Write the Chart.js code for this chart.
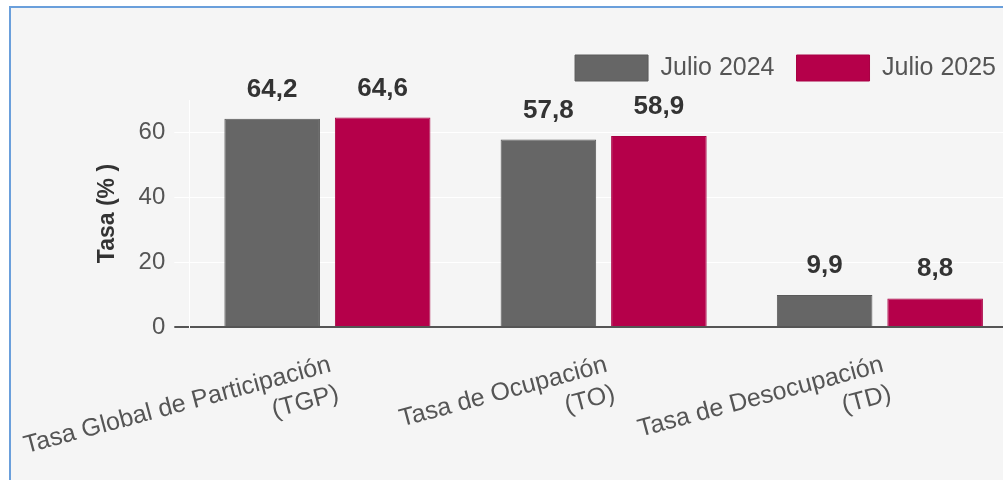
<!DOCTYPE html>
<html><head><meta charset="utf-8">
<script src="https://cdn.jsdelivr.net/npm/chart.js@4"></script>
<style>
html,body{margin:0;padding:0;background:#fff;overflow:hidden;width:1003px;height:480px;}
#frame{position:absolute;left:9px;top:6px;width:1100px;height:600px;border-left:2px solid #6a9fdb;border-top:2px solid #6a9fdb;background:#f5f5f5;}
#wrap{position:absolute;left:0;top:0;width:1030px;height:520px;}
</style></head><body>
<div id="frame"></div>
<div id="wrap"><canvas id="c" width="1030" height="520"></canvas></div>
<script>
const categories = [["Tasa Global de Participación","(TGP)"],["Tasa de Ocupación","(TO)"],["Tasa de Desocupación","(TD)"]];
const seriesNames = ["Julio 2024","Julio 2025"];
const julio2024 = [64.2, 57.8, 9.9];
const julio2025 = [64.6, 58.9, 8.8];
const yTicks = [0, 20, 40, 60];
const yTitle = "Tasa (% )";

const FONT = '"Liberation Sans", Arial, sans-serif';
const fmt = v => v.toFixed(1).replace('.', ',');

const valueLabels = {
  id: 'valueLabels',
  afterDatasetsDraw(chart) {
    const ctx = chart.ctx;
    ctx.save();
    ctx.font = 'bold 26px ' + FONT;
    ctx.fillStyle = '#333';
    ctx.textAlign = 'center';
    ctx.textBaseline = 'alphabetic';
    chart.data.datasets.forEach((ds, i) => {
      chart.getDatasetMeta(i).data.forEach((bar, j) => {
        ctx.fillText(fmt(ds.data[j]), bar.x, bar.y - 22);
      });
    });
    ctx.restore();
  }
};

const legendGap = {
  id: 'legendGap',
  beforeInit(chart) {
    const fit = chart.legend.fit;
    chart.legend.fit = function () { fit.call(this); this.height += 9; };
  }
};

new Chart(document.getElementById('c'), {
  type: 'bar',
  data: {
    labels: categories,
    datasets: [
      { label: seriesNames[0], data: julio2024, backgroundColor: '#666666', borderColor: '#5a5a5a', borderWidth: 1,
        categoryPercentage: 0.8, barPercentage: 0.865 },
      { label: seriesNames[1], data: julio2025, backgroundColor: '#b5004a', borderColor: '#a80044', borderWidth: 1,
        categoryPercentage: 0.8, barPercentage: 0.865 }
    ]
  },
  options: {
    responsive: false,
    animation: false,
    devicePixelRatio: 1,
    layout: { padding: { left: 94, right: 12, top: 33, bottom: 7 } },
    plugins: {
      legend: {
        position: 'top', align: 'end',
        labels: { boxWidth: 73, boxHeight: 26, padding: 22, color: '#555', font: { family: FONT, size: 25 } }
      },
      tooltip: { enabled: false }
    },
    scales: {
      x: {
        grid: { display: false, drawTicks: false },
        border: { display: false },
        afterFit: s => { s.paddingLeft = 0; s.paddingRight = 0; },
        ticks: { color: '#555', font: { family: FONT, size: 25 }, maxRotation: 15, minRotation: 15, autoSkip: false, padding: 23, labelOffset: 3 }
      },
      y: {
        min: 0, max: 70,
        afterBuildTicks: s => { s.ticks = yTicks.map(v => ({ value: v })); },
        grid: {
          color: c => (c.tick && c.tick.value === 0) ? '#555' : '#ffffff',
          lineWidth: c => (c.tick && c.tick.value === 0) ? 2 : 1,
          tickLength: 15
        },
        border: { color: '#ffffff', width: 1 },
        ticks: { color: '#555', font: { family: FONT, size: 24 }, padding: 9 },
        title: { display: true, text: yTitle, color: '#333', font: { family: FONT, size: 23, weight: 'bold' }, padding: { top: 0, bottom: 8 } }
      }
    }
  },
  plugins: [valueLabels, legendGap]
});
</script>
</body></html>
